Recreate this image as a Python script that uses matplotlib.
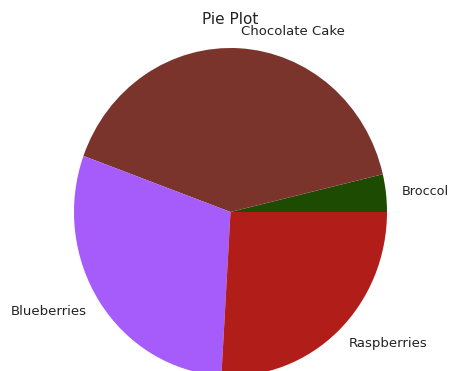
import matplotlib
matplotlib.use("Agg")
import matplotlib.pyplot as plt

labels = ["Broccol", "Chocolate Cake", "Blueberries", "Raspberries"]
counts = [1, 11, 8, 7]
colors = ["#1d4b02", "#7b342c", "#a65bfb", "#b11e1a"]

W, H = 450, 371
fig = plt.figure(figsize=(W / 100, H / 100), dpi=100)

# pie is slightly stretched vertically in the reference
cx, cy = 230.5, 212
rx, ry = 156.5, 164
aw, ah = 2.5 * rx, 2.5 * ry
ax = fig.add_axes([(cx - aw / 2) / W, 1 - (cy + ah / 2) / H, aw / W, ah / H])

wedges, texts = ax.pie(counts, labels=labels, colors=colors, startangle=0,
                       textprops={"fontsize": 9.5, "color": "#222222"})
# keep the right-hand label inside the canvas
texts[0].set_fontsize(9.2)
ax.set_aspect("auto")
ax.set_xlim(-1.25, 1.25)
ax.set_ylim(-1.25, 1.25)
ax.set_title("Pie Plot", y=1 - 13 / ah, pad=0, va="center", fontsize=11, color="#222222")

fig.savefig("out.png", dpi=100)
